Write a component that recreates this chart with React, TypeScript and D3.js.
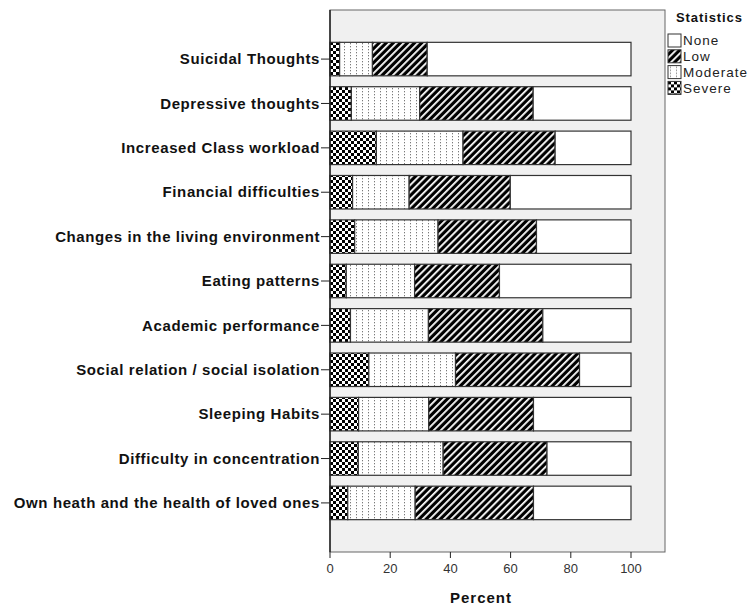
import React from "react";
import * as d3 from "d3";

const categories = [
  "Suicidal Thoughts",
  "Depressive thoughts",
  "Increased Class workload",
  "Financial difficulties",
  "Changes in the living environment",
  "Eating patterns",
  "Academic performance",
  "Social relation / social isolation",
  "Sleeping Habits",
  "Difficulty in concentration",
  "Own heath and the health of loved ones",
];

const severe = [3.2, 7.1, 15.4, 7.5, 8.2, 5.4, 6.8, 12.9, 9.5, 9.4, 5.9];
const moderate = [10.9, 22.7, 28.8, 18.8, 27.7, 22.7, 25.9, 28.8, 23.3, 28.2, 22.4];
const low = [18.2, 37.7, 30.6, 33.6, 32.7, 28.2, 38.0, 41.2, 34.8, 34.5, 39.3];

const seriesNames = ["Severe", "Moderate", "Low", "None"];
const legendOrder = ["None", "Low", "Moderate", "Severe"];
const xTicks = [0, 20, 40, 60, 80, 100];

const W = 753;
const H = 605;
const plot = { left: 330, right: 665, top: 10, bottom: 552 };

export default function App() {
  const x = d3.scaleLinear().domain([0, 100]).range([plot.left, 631]);
  const y = d3
    .scaleBand<string>()
    .domain(categories)
    .range([37, 525])
    .paddingInner(0.245)
    .paddingOuter(0.12);

  const rows = categories.map((c, i) => {
    const s = severe[i];
    const m = moderate[i];
    const l = low[i];
    const n = 100 - s - m - l;
    return { c, vals: [s, m, l, n] };
  });

  const stack = rows.map((r) => {
    let acc = 0;
    return r.vals.map((v, k) => {
      const seg = { x0: acc, x1: acc + v, k };
      acc += v;
      return seg;
    });
  });

  const fillFor = (name: string) =>
    name === "None"
      ? "#ffffff"
      : name === "Low"
      ? "url(#pLow)"
      : name === "Moderate"
      ? "url(#pMod)"
      : "url(#pSev)";

  const font = "'Liberation Sans', Arial, sans-serif";

  return (
    <svg width={W} height={H} style={{ position: "absolute", left: 0, top: 0 }}>
      <defs>
        <pattern id="pSev" width="6" height="6" patternUnits="userSpaceOnUse">
          <rect width="6" height="6" fill="#fff" />
          <rect x="0" y="0" width="3" height="3" fill="#000" />
          <rect x="3" y="3" width="3" height="3" fill="#000" />
        </pattern>
        <pattern id="pMod" width="6" height="3" patternUnits="userSpaceOnUse">
          <rect width="6" height="3" fill="#fff" />
          <rect x="2" y="1" width="1" height="1.3" fill="#7a7a7a" />
        </pattern>
        <pattern
          id="pLow"
          width="5"
          height="5"
          patternUnits="userSpaceOnUse"
          patternTransform="rotate(45)"
        >
          <rect width="5" height="5" fill="#000" />
          <rect x="0" y="0" width="1.8" height="5" fill="#fff" />
        </pattern>
      </defs>
      <rect width={W} height={H} fill="#fff" />
      <rect
        x={plot.left}
        y={plot.top}
        width={plot.right - plot.left}
        height={plot.bottom - plot.top}
        fill="#f0f0f0"
        stroke="#666"
        strokeWidth={1}
      />
      {stack.map((segs, i) => {
        const yy = y(categories[i])!;
        const bh = y.bandwidth();
        return (
          <g key={i}>
            {segs.map((s) => (
              <rect
                key={s.k}
                x={x(s.x0)}
                y={yy}
                width={x(s.x1) - x(s.x0)}
                height={bh}
                fill={fillFor(seriesNames[s.k])}
                stroke="#333"
                strokeWidth={1.2}
              />
            ))}
            <line
              x1={plot.left - 9}
              x2={plot.left}
              y1={yy + bh / 2}
              y2={yy + bh / 2}
              stroke="#222"
              strokeWidth={1}
            />
            <text
              x={plot.left - 10}
              y={yy + bh / 2}
              dy="0.35em"
              textAnchor="end"
              fontFamily={font}
              fontWeight="bold"
              fontSize={15}
              letterSpacing={0.6}
              fill="#111"
            >
              {categories[i]}
            </text>
          </g>
        );
      })}
      <line
        x1={plot.left}
        x2={plot.left}
        y1={plot.top}
        y2={plot.bottom}
        stroke="#222"
        strokeWidth={1.5}
      />
      {xTicks.map((t) => (
        <g key={t}>
          <line
            x1={x(t)}
            x2={x(t)}
            y1={plot.bottom}
            y2={plot.bottom + 6}
            stroke="#222"
            strokeWidth={1}
          />
          <text
            x={x(t)}
            y={plot.bottom + 21}
            textAnchor="middle"
            fontFamily={font}
            fontSize={13}
            fill="#333"
          >
            {t}
          </text>
        </g>
      ))}
      <text
        x={481}
        y={603}
        textAnchor="middle"
        fontFamily={font}
        fontWeight="bold"
        fontSize={15}
        letterSpacing={1}
        fill="#111"
      >
        Percent
      </text>
      <text
        x={676}
        y={22}
        fontFamily={font}
        fontWeight="bold"
        fontSize={13}
        letterSpacing={0.9}
        fill="#111"
      >
        Statistics
      </text>
      {legendOrder.map((name, i) => (
        <g key={name} transform={`translate(668, ${34 + i * 15.8})`}>
          <rect
            x={0}
            y={0}
            width={13}
            height={13}
            fill={fillFor(name)}
            stroke="#333"
            strokeWidth={1}
          />
          <text
            x={15}
            y={6.5}
            dy="0.36em"
            fontFamily={font}
            fontSize={13.5}
            letterSpacing={1}
            fill="#222"
          >
            {name}
          </text>
        </g>
      ))}
    </svg>
  );
}
